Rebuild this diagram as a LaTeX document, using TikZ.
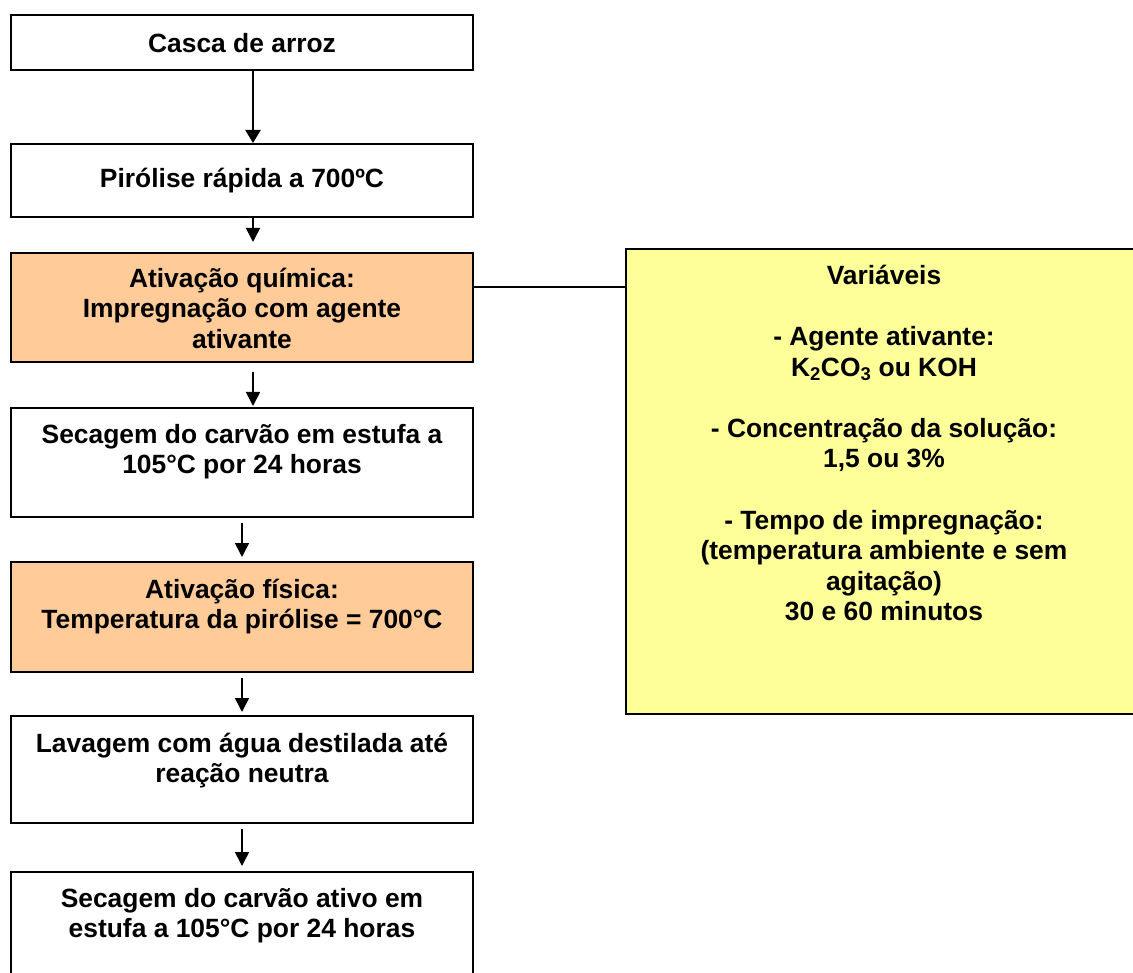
\documentclass[tikz,border=0pt]{standalone}
\usepackage{fontspec}
\setmainfont{Liberation Sans}
\usetikzlibrary{arrows.meta}
\definecolor{stepfill}{HTML}{FFCC99}
\definecolor{notefill}{HTML}{FFFF99}
% fixed height above the first baseline of every text block
\newcommand\firstline{\rule{0pt}{25pt}}

\begin{document}
\begin{tikzpicture}[x=1pt,y=-1pt,
  stepbox/.style={draw=black, line width=2pt, minimum width=462pt, inner sep=0pt, fill=white},
  actbox/.style={stepbox, fill=stepfill},
  notebox/.style={draw=black, line width=2pt, fill=notefill, minimum width=516pt, minimum height=465pt, inner sep=0pt},
  steptext/.style={anchor=north, inner sep=0pt, align=center, font=\fontsize{26.4}{30.6}\selectfont\bfseries},
  flow/.style={line width=1.6pt, -{Triangle[width=14pt,length=14pt]}},
  bigflow/.style={line width=2pt, -{Triangle[width=15pt,length=13pt]}},
  tieline/.style={line width=1.3pt}]
\useasboundingbox (0,0) rectangle (1133,973);
\clip (0,0) rectangle (1133,973);

% process steps
\node[stepbox, minimum height=55pt]  (b1) at (242,42.5) {};
\node[stepbox, minimum height=73pt]  (b2) at (242,180.5) {};
\node[actbox,  minimum height=109pt] (b3) at (242,307.5) {};
\node[stepbox, minimum height=109pt] (b4) at (242,462.5) {};
\node[actbox,  minimum height=110pt] (b5) at (242,617) {};
\node[stepbox, minimum height=107pt] (b6) at (242,769.5) {};
\node[stepbox, minimum height=118pt] (b7) at (242,931) {};

\node[steptext] (t1) at (242,27)  {\firstline Casca de arroz};
\node[steptext] (t2) at (242,162) {\firstline Pirólise rápida a 700ºC};
\node[steptext] (t3) at (242,262) {\firstline Ativação química:\\ Impregnação com agente\\ ativante};
\node[steptext] (t4) at (242,418) {\firstline Secagem do carvão em estufa a\\ 105°C por 24 horas};
\node[steptext] (t5) at (242,573) {\firstline Ativação física:\\ Temperatura da pirólise = 700°C};
\node[steptext] (t6) at (242,727) {\firstline Lavagem com água destilada até\\ reação neutra};
\node[steptext] (t7) at (242,882) {\firstline Secagem do carvão ativo em\\ estufa a 105°C por 24 horas};

% variables of the activation
\node[notebox] (var) at (884,481.5) {};
\node[steptext] (vt) at (884,259) {\firstline Variáveis\\[30.6pt]
  - Agente ativante:\\ K\textsubscript{2}CO\textsubscript{3} ou KOH\\[30.6pt]
  - Concentração da solução:\\ 1,5 ou 3\%\\[30.6pt]
  - Tempo de impregnação:\\ (temperatura ambiente e sem\\ agitação)\\ 30 e 60 minutos};

% connectors
\draw[bigflow] ([xshift=11pt]b1.south) -- ([xshift=11pt]b2.north);
\draw[flow, shorten >=10pt] ([xshift=11pt]b2.south) -- ([xshift=11pt]b3.north);
\draw[flow, shorten <=9pt, shorten >=1pt] ([xshift=11pt]b3.south) -- ([xshift=11pt]b4.north);
\draw[flow, shorten <=5pt, shorten >=4pt] (b4.south) -- (b5.north);
\draw[flow, shorten <=5pt, shorten >=3pt] (b5.south) -- (b6.north);
\draw[flow, shorten <=5pt, shorten >=5pt] (b6.south) -- (b7.north);
\draw[tieline] ([yshift=-35pt]b3.north east) -- ([yshift=-35pt]b3.north east -| var.west);
\end{tikzpicture}
\end{document}
